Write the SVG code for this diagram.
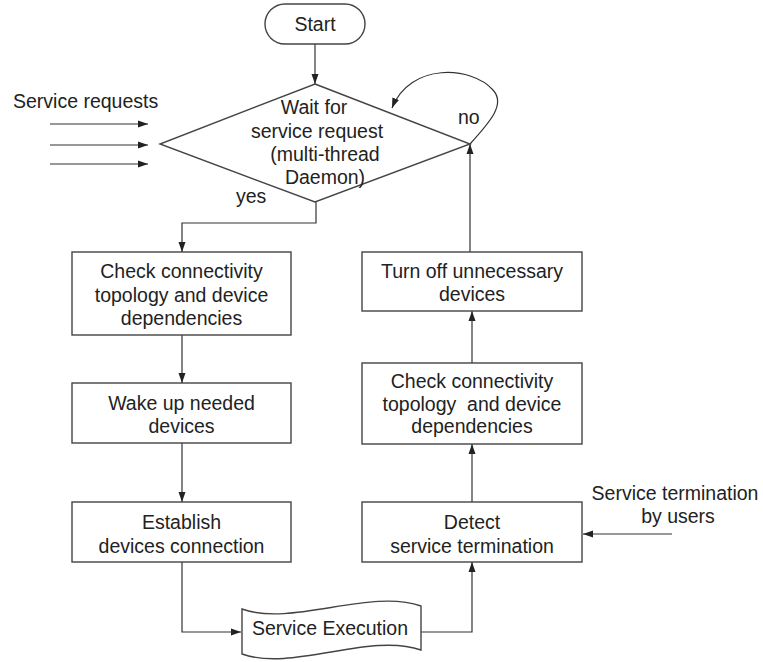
<svg xmlns="http://www.w3.org/2000/svg" width="763" height="662" viewBox="0 0 763 662">
<defs>
<style>
.shape{fill:#fff;stroke:#444;stroke-width:1.4}
.conn{fill:none;stroke:#333;stroke-width:1.2}
text{font-family:"Liberation Sans",Arial,sans-serif;font-size:19.5px;fill:#222}
.c{text-anchor:middle}
</style>
<marker id="ah" markerWidth="10" markerHeight="8" refX="10" refY="4" orient="auto" markerUnits="userSpaceOnUse">
<path d="M0,0.5 L10,4 L0,7.5 z" fill="#222"/>
</marker>
</defs>
<rect width="763" height="662" fill="#fff"/>

<g id="connectors">
<path class="conn" d="M315,44 L315,84" marker-end="url(#ah)"/>
<path class="conn" d="M316,202 L316,223 L182,223 L182,252" marker-end="url(#ah)"/>
<path class="conn" d="M182,335 L182,383" marker-end="url(#ah)"/>
<path class="conn" d="M182,443 L182,502" marker-end="url(#ah)"/>
<path class="conn" d="M182,562 L182,632 L241,632" marker-end="url(#ah)"/>
<path class="conn" d="M421,632 L472,632 L472,562" marker-end="url(#ah)"/>
<path class="conn" d="M472,502 L472,444" marker-end="url(#ah)"/>
<path class="conn" d="M472,363 L472,311" marker-end="url(#ah)"/>
<path class="conn" d="M470,252 L470,144" marker-end="url(#ah)"/>
<path class="conn" d="M470,144 C490,122 506,104 493,90 C472,66 410,62 392,108" marker-end="url(#ah)"/>
<path class="conn" d="M50,124 L148,124" marker-end="url(#ah)"/>
<path class="conn" d="M50,145 L148,145" marker-end="url(#ah)"/>
<path class="conn" d="M50,164 L148,164" marker-end="url(#ah)"/>
<path class="conn" d="M672,534 L583,534" marker-end="url(#ah)"/>
</g>

<g id="labels">
<text x="13" y="108">Service requests</text>
<text x="236" y="203">yes</text>
<text x="458" y="124">no</text>
<text class="c" x="675" y="500">Service termination</text>
<text class="c" x="678" y="523">by users</text>
</g>

<g id="start">
<rect class="shape" x="265" y="4" width="100" height="40" rx="20" ry="20"/>
<text class="c" x="315" y="31">Start</text>
</g>

<g id="wait">
<polygon class="shape" points="315,84 470,144 315,202 160,144"/>
<text class="c" x="314" y="114">Wait for</text>
<text class="c" x="317" y="138">service request</text>
<text class="c" x="325" y="161">(multi-thread</text>
<text class="c" x="325" y="184">Daemon)</text>
</g>

<g id="check1">
<rect class="shape" x="72" y="252" width="219" height="83"/>
<text class="c" x="181.5" y="278">Check connectivity</text>
<text class="c" x="181.5" y="302">topology and device</text>
<text class="c" x="181.5" y="325">dependencies</text>
</g>

<g id="wake">
<rect class="shape" x="72" y="383" width="219" height="60"/>
<text class="c" x="181.5" y="410">Wake up needed</text>
<text class="c" x="181.5" y="433">devices</text>
</g>

<g id="establish">
<rect class="shape" x="72" y="502" width="219" height="60"/>
<text class="c" x="181.5" y="529">Establish</text>
<text class="c" x="181.5" y="553">devices connection</text>
</g>

<g id="execution">
<path class="shape" d="M242,609 C292,627 370,588 421,606 L421,650 C370,632 292,672 242,654 Z"/>
<text class="c" x="330" y="635">Service Execution</text>
</g>

<g id="detect">
<rect class="shape" x="362" y="502" width="220" height="60"/>
<text class="c" x="472" y="529">Detect</text>
<text class="c" x="472" y="553">service termination</text>
</g>

<g id="check2">
<rect class="shape" x="362" y="363" width="220" height="81"/>
<text class="c" x="472" y="388">Check connectivity</text>
<text class="c" x="472" y="411" xml:space="preserve">topology  and device</text>
<text class="c" x="472" y="433">dependencies</text>
</g>

<g id="turnoff">
<rect class="shape" x="362" y="252" width="220" height="59"/>
<text class="c" x="472" y="278">Turn off unnecessary</text>
<text class="c" x="472" y="301">devices</text>
</g>
</svg>
